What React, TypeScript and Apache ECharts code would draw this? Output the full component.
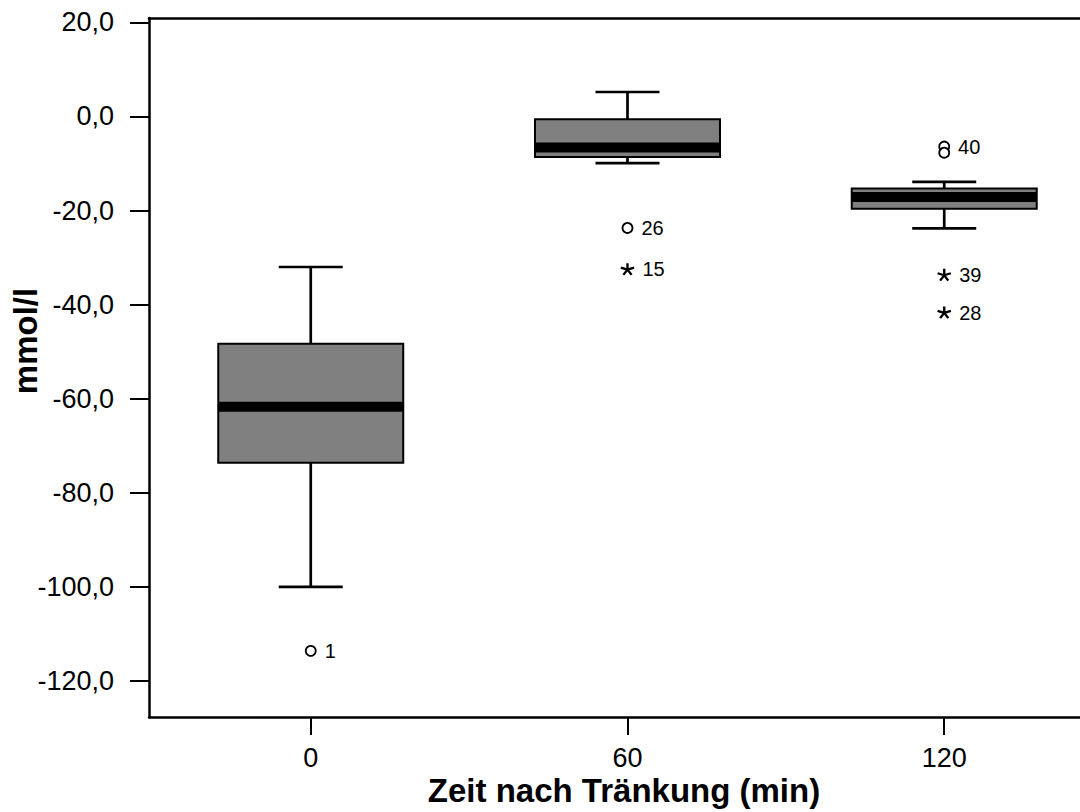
import React, { useEffect, useRef } from "react";
import * as echarts from "echarts";

// ---- data ----
const times = [0, 60, 120];
const timeTickLabels = ["0", "60", "120"];
const lowWhisker = [-100.0, -9.9, -23.8];
const q1 = [-73.6, -8.6, -19.6];
const median = [-61.7, -6.6, -17.1];
const q3 = [-48.3, -0.6, -15.3];
const highWhisker = [-32.0, 5.2, -13.9];

// outliers (circles)
const outlierTime = [0, 60, 120, 120];
const outlierValue = [-113.6, -23.7, -6.4, -7.7];
const outlierCase = ["1", "26", "40", ""];

// extremes (stars)
const extremeTime = [60, 120, 120];
const extremeValue = [-32.5, -33.7, -41.7];
const extremeCase = ["15", "39", "28"];

const yTicks = [-120, -100, -80, -60, -40, -20, 0, 20];

const FONT = "Liberation Sans, Arial, sans-serif";
const BOX_W = 185;
const CAP_W = 64;

// five-armed asterisk built from thin arms (shape geometry only)
function asteriskPath(): string {
  const R = 10;
  const w = 1.7;
  const parts: string[] = [];
  for (let i = 0; i < 5; i++) {
    const a = -Math.PI / 2 + (i * 2 * Math.PI) / 5;
    const dx = Math.cos(a);
    const dy = Math.sin(a);
    const nx = -dy;
    const ny = dx;
    const p = (x: number, y: number) => (R + x).toFixed(2) + " " + (R + y).toFixed(2);
    parts.push(
      "M" + p(nx * w, ny * w) +
        " L" + p(dx * R + nx * w, dy * R + ny * w) +
        " L" + p(dx * R - nx * w, dy * R - ny * w) +
        " L" + p(-nx * w, -ny * w) +
        " Z"
    );
  }
  // bounding helper so the symbol keeps its proportions
  return "path://" + parts.join(" ");
}

export default function App() {
  const ref = useRef<HTMLDivElement>(null);

  useEffect(() => {
    if (!ref.current) return;
    const chart = echarts.init(ref.current, null, { renderer: "svg" });

    const boxData = times.map((t, i) => [
      t,
      lowWhisker[i],
      q1[i],
      median[i],
      q3[i],
      highWhisker[i],
    ]);
    const outData = outlierTime.map((t, i) => ({
      value: [t, outlierValue[i]],
      name: outlierCase[i],
    }));
    const extData = extremeTime.map((t, i) => ({
      value: [t, extremeValue[i]],
      name: extremeCase[i],
    }));

    const xMin = -30.64;
    const xMax = 145.72;

    const caseLabel = {
      show: true,
      position: "right",
      distance: 8,
      formatter: (p: any) => p.name,
      fontSize: 20,
      color: "#000",
      fontFamily: FONT,
    };

    const option: any = {
      animation: false,
      backgroundColor: "#ffffff",
      textStyle: { fontFamily: FONT, color: "#000" },
      grid: { left: 149, right: 0, top: 18, bottom: 95, containLabel: false },
      xAxis: [
        {
          type: "value",
          min: xMin,
          max: xMax,
          position: "bottom",
          splitLine: { show: false },
          axisLine: { show: true, onZero: false, lineStyle: { color: "#000", width: 2.5 } },
          axisTick: {
            show: true,
            length: 18,
            customValues: times,
            lineStyle: { color: "#000", width: 2 },
          },
          axisLabel: {
            show: true,
            customValues: times,
            margin: 27,
            fontSize: 27,
            color: "#000",
            fontFamily: FONT,
            formatter: (v: number) => {
              const i = times.indexOf(v);
              return i >= 0 ? timeTickLabels[i] : "";
            },
          },
        },
        {
          type: "value",
          min: xMin,
          max: xMax,
          position: "top",
          splitLine: { show: false },
          axisLine: { show: true, onZero: false, lineStyle: { color: "#000", width: 2.5 } },
          axisTick: { show: false },
          axisLabel: { show: false },
        },
      ],
      yAxis: {
        type: "value",
        min: -127.66,
        max: 20.93,
        splitLine: { show: false },
        axisLine: { show: true, onZero: false, lineStyle: { color: "#000", width: 2.5 } },
        axisTick: {
          show: true,
          length: 19,
          customValues: yTicks,
          lineStyle: { color: "#000", width: 2 },
        },
        axisLabel: {
          show: true,
          customValues: yTicks,
          margin: 35,
          fontSize: 27,
          color: "#000",
          fontFamily: FONT,
          padding: [6, 0, 0, 0],
          formatter: (v: number) => v.toFixed(1).replace(".", ","),
        },
      },
      series: [
        {
          type: "custom",
          xAxisIndex: 0,
          data: boxData,
          encode: { x: 0, y: [1, 2, 3, 4, 5] },
          renderItem: (params: any, api: any) => {
            const x = api.value(0);
            const lo = api.coord([x, api.value(1)]);
            const b1 = api.coord([x, api.value(2)]);
            const md = api.coord([x, api.value(3)]);
            const b3 = api.coord([x, api.value(4)]);
            const hi = api.coord([x, api.value(5)]);
            const cx = lo[0];
            const hw = BOX_W / 2;
            const cw = CAP_W / 2;
            const ls = { stroke: "#000", lineWidth: 2.7 };
            return {
              type: "group",
              children: [
                { type: "line", shape: { x1: cx, y1: hi[1], x2: cx, y2: b3[1] }, style: ls },
                { type: "line", shape: { x1: cx, y1: b1[1], x2: cx, y2: lo[1] }, style: ls },
                { type: "line", shape: { x1: cx - cw, y1: hi[1], x2: cx + cw, y2: hi[1] }, style: ls },
                { type: "line", shape: { x1: cx - cw, y1: lo[1], x2: cx + cw, y2: lo[1] }, style: ls },
                {
                  type: "rect",
                  shape: { x: cx - hw, y: b3[1], width: BOX_W, height: b1[1] - b3[1] },
                  style: { fill: "#808080", stroke: "#000", lineWidth: 2 },
                },
                {
                  type: "rect",
                  shape: { x: cx - hw, y: md[1] - 5, width: BOX_W, height: 10 },
                  style: { fill: "#000" },
                },
              ],
            };
          },
        },
        {
          type: "scatter",
          xAxisIndex: 0,
          data: outData,
          symbol: "circle",
          symbolSize: 10,
          itemStyle: { color: "#ffffff", borderColor: "#000000", borderWidth: 1.8, opacity: 1 },
          label: caseLabel,
        },
        {
          type: "scatter",
          xAxisIndex: 0,
          data: extData,
          symbol: asteriskPath(),
          symbolSize: [14, 13],
          symbolKeepAspect: true,
          itemStyle: { color: "#000", opacity: 1 },
          label: caseLabel,
        },
      ],
      graphic: [
        {
          type: "text",
          x: 25,
          y: 341,
          rotation: Math.PI / 2,
          style: {
            text: "mmol/l",
            font: "bold 33px " + FONT,
            fill: "#000",
            align: "center",
            verticalAlign: "middle",
          },
        },
        {
          type: "text",
          x: 624,
          y: 790,
          style: {
            text: "Zeit nach Tränkung (min)",
            font: "bold 33px " + FONT,
            fill: "#000",
            align: "center",
            verticalAlign: "middle",
          },
        },
      ],
    };

    chart.setOption(option);
    return () => chart.dispose();
  }, []);

  return (
    <div
      ref={ref}
      style={{ position: "fixed", left: 0, top: 0, width: 1080, height: 812, background: "#fff" }}
    />
  );
}
